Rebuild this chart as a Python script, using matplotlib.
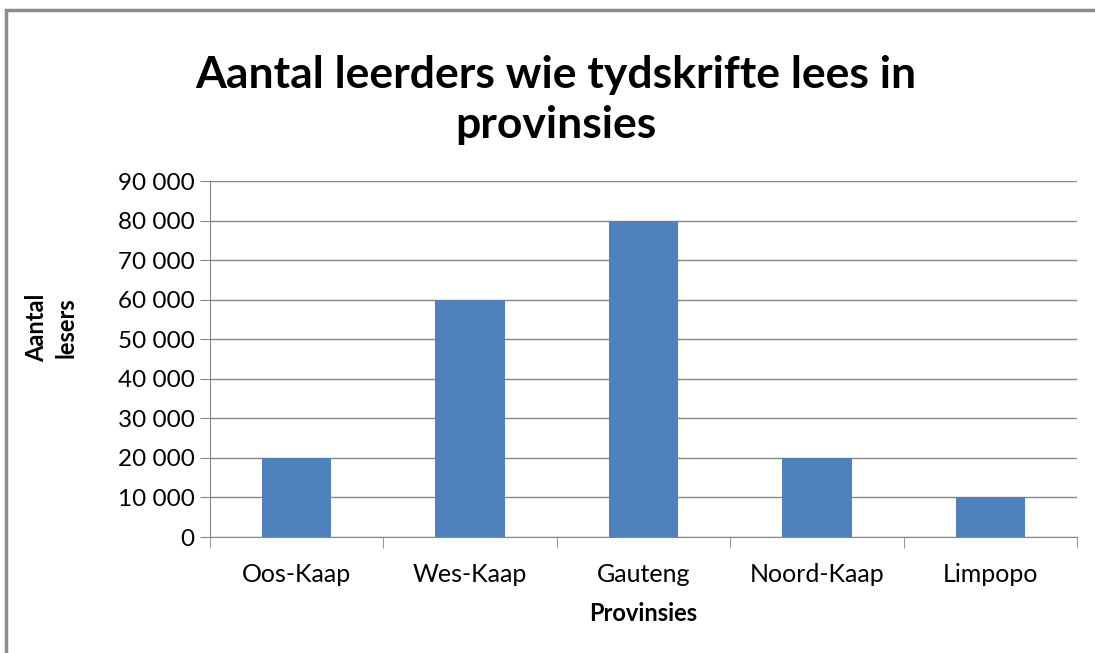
import numpy as np
import matplotlib.pyplot as plt
from matplotlib.patches import Rectangle
from matplotlib.ticker import FuncFormatter

provinces = ['Oos-Kaap', 'Wes-Kaap', 'Gauteng', 'Noord-Kaap', 'Limpopo']
readers = [20000, 60000, 80000, 20000, 10000]
y_ticks = list(range(0, 90001, 10000))

plt.rcParams['font.family'] = ['Lato', 'DejaVu Sans']

W, H = 1095, 653
fig = plt.figure(figsize=(W / 100, H / 100), dpi=100)
ax = fig.add_axes([210 / W, 1 - 537 / H, (1077 - 210) / W, (537 - 181) / H])

x = np.arange(len(provinces))
ax.bar(x, readers, width=0.40, color='#4F81BD', zorder=3)

ax.set_xlim(-0.5, len(provinces) - 0.5)
ax.set_ylim(0, 90000)
ax.set_yticks(y_ticks)
ax.yaxis.set_major_formatter(FuncFormatter(lambda v, p: f'{int(v):,}'.replace(',', ' ')))
ax.set_xticks(x)
ax.set_xticklabels(provinces)
ax.set_xticks(np.arange(-0.5, len(provinces)), minor=True)

ax.grid(axis='y', color='#868686', linewidth=1.0, zorder=0)
for s in ['top', 'right']:
    ax.spines[s].set_visible(False)
for s in ['left', 'bottom']:
    ax.spines[s].set_color('#868686')
ax.tick_params(axis='y', length=7, color='#868686', labelsize=17.5, pad=4)
ax.tick_params(axis='x', which='major', length=0, labelsize=18, pad=19)
ax.tick_params(axis='x', which='minor', length=8, color='#868686')

ax.set_xlabel('Provinsies', fontsize=17, fontweight='bold', labelpad=11)
fig.text(51 / W, 1 - 328 / H, 'Aantal\nlesers', rotation=90, fontsize=17,
         fontweight='bold', ha='center', va='center', linespacing=1.35)

fig.text(556 / W, 1 - 100 / H, 'Aantal leerders wie tydskrifte lees in\nprovinsies',
         fontsize=32, fontweight='bold', ha='center', va='center', linespacing=1.32)

# outer chart border (cropped at right and bottom)
fig.patches.append(Rectangle((6 / W, -0.1), 1.2, 1 - 9.5 / H + 0.1, transform=fig.transFigure,
                             fill=False, edgecolor='#8c8c8c', linewidth=2.5))

fig.savefig('out.png', dpi=100)
